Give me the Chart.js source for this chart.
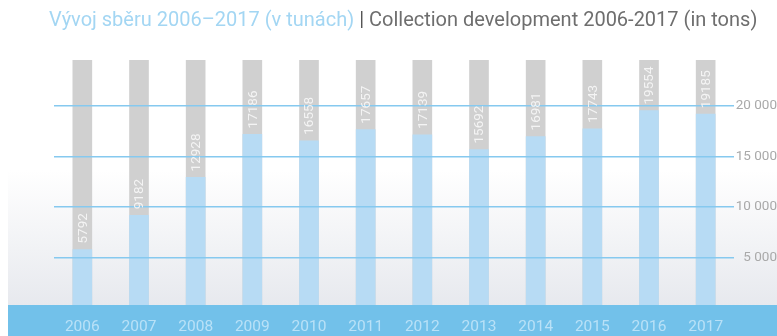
<!DOCTYPE html>
<html lang="cs">
  <head>
    <meta charset="UTF-8" />
    <meta name="viewport" content="width=device-width, initial-scale=1.0" />
    <style>
      body {
        margin: 0;
        background-color: #ffffff;
        font-family: Roboto, "Noto Sans", sans-serif;
      }

      .wrap {
        position: relative;
        width: 777px;
        height: 336px;
        overflow: hidden;
      }

      .title {
        position: absolute;
        left: 49px;
        top: 7px;
        font-size: 20px;
        font-weight: 400;
        white-space: nowrap;
        z-index: 2;
      }

      .title .cz {
        color: #a3d6f3;
      }

      .title .en {
        color: #6e6e6e;
      }

      .title .sep {
        color: #555555;
      }

      canvas {
        position: absolute;
        left: 8px;
        top: 0;
      }
    </style>
    <script src="https://cdn.jsdelivr.net/npm/chart.js"></script>
    <title>Vývoj sběru</title>
  </head>

  <body>
    <div class="wrap">
      <div class="title">
        <span class="cz">Vývoj sběru 2006–2017 (v tunách)</span>
        <span class="sep">|</span>
        <span class="en">Collection development 2006-2017 (in tons)</span>
      </div>
      <canvas id="collection" width="769" height="336"></canvas>
    </div>

    <script>
      // yearly collection in tons
      const years = ["2006", "2007", "2008", "2009", "2010", "2011", "2012", "2013", "2014", "2015", "2016", "2017"];
      const collected = [5792, 9182, 12928, 17186, 16558, 17657, 17139, 15692, 16981, 17743, 19554, 19185];
      const yTicks = [5000, 10000, 15000, 20000];
      const yMax = 24550;
      const fullBar = years.map(() => yMax);

      const fmt = (v) => String(v).replace(/\B(?=(\d{3})+(?!\d))/g, " ");

      // soft white -> grey backdrop
      const backdrop = {
        id: "backdrop",
        beforeDraw(chart) {
          const ctx = chart.ctx;
          const g = ctx.createLinearGradient(0, 170, 0, 305);
          g.addColorStop(0, "#ffffff");
          g.addColorStop(1, "#e7e9ee");
          ctx.save();
          ctx.fillStyle = g;
          ctx.fillRect(0, 0, chart.width, chart.height);
          ctx.restore();
        },
      };

      // blue strip under the bars, year labels sit on it
      const band = {
        id: "band",
        afterDatasetsDraw(chart) {
          const ctx = chart.ctx;
          ctx.save();
          ctx.fillStyle = "#72c1ea";
          ctx.fillRect(0, 305, chart.width, chart.height - 305);
          ctx.restore();
        },
      };

      // rotated value just above each blue bar
      const valueLabels = {
        id: "valueLabels",
        afterDraw(chart) {
          const ctx = chart.ctx;
          const meta = chart.getDatasetMeta(0);
          ctx.save();
          ctx.font = "13.5px Roboto, sans-serif";
          ctx.fillStyle = "#f4f4f4";
          ctx.textAlign = "left";
          ctx.textBaseline = "middle";
          meta.data.forEach((bar, i) => {
            ctx.save();
            ctx.translate(bar.x, bar.y - 6);
            ctx.rotate(-Math.PI / 2);
            ctx.fillText(String(collected[i]), 0, 1);
            ctx.restore();
          });
          ctx.restore();
        },
      };

      const ctx = document.getElementById("collection").getContext("2d");
      const myChart = new Chart(ctx, {
        type: "bar",
        data: {
          labels: years,
          datasets: [
            {
              label: "tuny",
              data: collected,
              backgroundColor: "#b7dbf4",
              barThickness: 19,
              grouped: false,
            },
            {
              label: "max",
              data: fullBar,
              backgroundColor: "#d0d0d0",
              barThickness: 19,
              grouped: false,
            },
          ],
        },
        options: {
          responsive: false,
          animation: false,
          events: [],
          layout: { padding: { left: 46, top: 60, right: 0, bottom: 0 } },
          plugins: {
            legend: { display: false },
            tooltip: { enabled: false },
          },
          scales: {
            x: {
              grid: { display: false, drawTicks: false },
              border: { display: false },
              ticks: {
                z: 2,
                color: "#b9e1f7",
                font: { family: "Roboto", size: 15.5 },
                padding: 10,
                maxRotation: 0,
                autoSkip: false,
              },
              afterFit(scale) {
                scale.height = 28;
              },
            },
            y: {
              position: "right",
              min: 0,
              max: yMax,
              grid: { z: 1, color: "#86c9ef", lineWidth: 1.5, drawTicks: false },
              border: { display: false },
              afterBuildTicks(scale) {
                scale.ticks = yTicks.map((v) => ({ value: v }));
              },
              ticks: {
                z: 1,
                color: "#a9a9a9",
                font: { family: "Roboto", size: 13.5 },
                padding: 0,
                crossAlign: "far",
                callback: (v) => fmt(v),
              },
              afterFit(scale) {
                scale.width = 43;
              },
            },
          },
        },
        plugins: [backdrop, band, valueLabels],
      });
    </script>
  </body>
</html>
